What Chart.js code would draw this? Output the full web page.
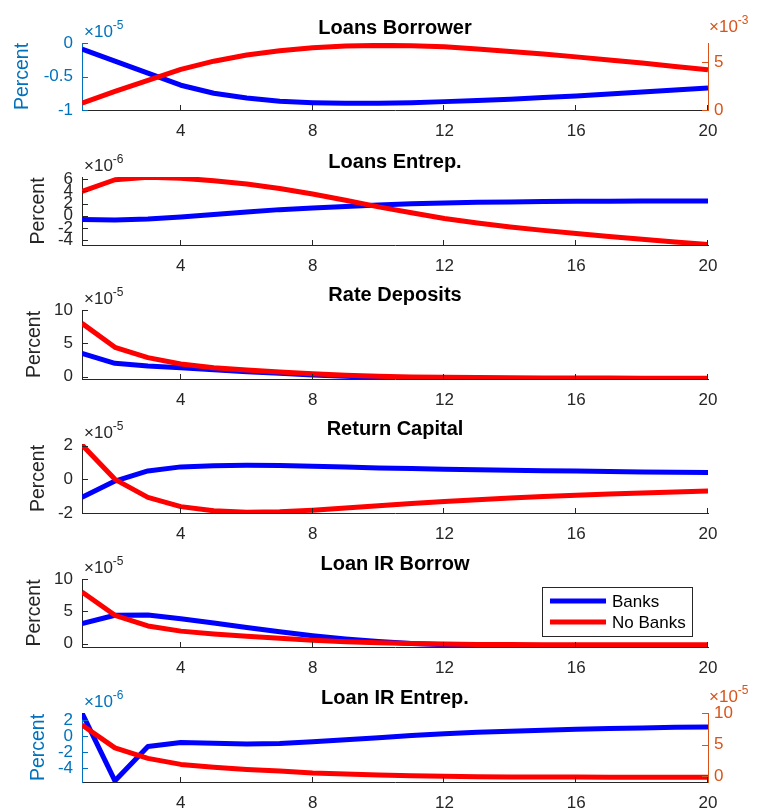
<!DOCTYPE html>
<html>
<head>
<meta charset="utf-8">
<script src="https://cdn.jsdelivr.net/npm/chart.js@4.4.1/dist/chart.umd.min.js"></script>
<style>
  html, body { margin: 0; padding: 0; background: #ffffff; }
  #wrap { position: relative; width: 759px; height: 811px; overflow: hidden; background: #ffffff; }
  #wrap canvas { position: absolute; left: 0; }
</style>
</head>
<body>
<div id="wrap"></div>
<script>
// ---- data: impulse responses over 20 periods ----
const periods = [1, 2, 3, 4, 5, 6, 7, 8, 9, 10, 11, 12, 13, 14, 15, 16, 17, 18, 19, 20];
const xTicks = [4, 8, 12, 16, 20];
const seriesNames = ['Banks', 'No Banks'];

// Loans Borrower: Banks in units of 1e-5 (left axis), No Banks in units of 1e-3 (right axis)
const loansBorrowerBanks   = [-0.09, -0.27, -0.45, -0.63, -0.75, -0.82, -0.87, -0.89, -0.90, -0.90, -0.89, -0.875, -0.86, -0.84, -0.815, -0.79, -0.76, -0.73, -0.70, -0.67];
const loansBorrowerNoBanks = [0.72, 1.95, 3.10, 4.25, 5.10, 5.75, 6.20, 6.50, 6.68, 6.75, 6.72, 6.60, 6.38, 6.12, 5.85, 5.55, 5.22, 4.90, 4.55, 4.20];
const loansBorrowerLeftTicks  = [-1, -0.5, 0];
const loansBorrowerRightTicks = [0, 5];

// Loans Entrep.: units of 1e-6
const loansEntrepBanks   = [-0.60, -0.70, -0.55, -0.20, 0.20, 0.60, 1.00, 1.25, 1.50, 1.75, 1.95, 2.10, 2.20, 2.27, 2.32, 2.36, 2.38, 2.40, 2.40, 2.40];
const loansEntrepNoBanks = [4.00, 5.90, 6.30, 6.15, 5.75, 5.20, 4.45, 3.55, 2.55, 1.45, 0.50, -0.45, -1.20, -1.85, -2.40, -2.90, -3.40, -3.85, -4.30, -4.70];
const loansEntrepTicks   = [-4, -2, 0, 2, 4, 6];

// Rate Deposits: units of 1e-5
const rateDepositsBanks   = [3.50, 2.00, 1.60, 1.35, 1.05, 0.75, 0.50, 0.25, 0.05, -0.08, -0.17, -0.22, -0.25, -0.27, -0.28, -0.29, -0.30, -0.30, -0.30, -0.30];
const rateDepositsNoBanks = [8.00, 4.40, 2.85, 1.90, 1.35, 1.00, 0.70, 0.42, 0.20, 0.05, -0.05, -0.10, -0.14, -0.17, -0.19, -0.20, -0.21, -0.22, -0.22, -0.22];
const rateDepositsTicks   = [0, 5, 10];

// Return Capital: units of 1e-5
const returnCapitalBanks   = [-1.07, -0.10, 0.50, 0.74, 0.81, 0.83, 0.82, 0.78, 0.73, 0.68, 0.64, 0.60, 0.57, 0.54, 0.51, 0.49, 0.46, 0.44, 0.42, 0.40];
const returnCapitalNoBanks = [2.05, 0.00, -1.07, -1.62, -1.87, -1.95, -1.92, -1.83, -1.70, -1.57, -1.44, -1.32, -1.21, -1.11, -1.02, -0.94, -0.87, -0.81, -0.75, -0.70];
const returnCapitalTicks   = [-2, 0, 2];

// Loan IR Borrow: units of 1e-5
const loanIRBorrowBanks   = [3.10, 4.40, 4.45, 3.85, 3.20, 2.50, 1.85, 1.25, 0.75, 0.35, 0.05, -0.15, -0.30, -0.38, -0.43, -0.45, -0.47, -0.48, -0.48, -0.48];
const loanIRBorrowNoBanks = [8.00, 4.40, 2.75, 1.95, 1.50, 1.15, 0.85, 0.55, 0.32, 0.15, 0.03, -0.05, -0.10, -0.12, -0.14, -0.15, -0.15, -0.15, -0.15, -0.15];
const loanIRBorrowTicks   = [0, 5, 10];

// Loan IR Entrep.: Banks in units of 1e-6 (left axis), No Banks in units of 1e-5 (right axis)
const loanIREntrepBanks   = [2.90, -5.60, -1.30, -0.80, -0.88, -0.98, -0.93, -0.70, -0.45, -0.20, 0.07, 0.30, 0.48, 0.62, 0.75, 0.86, 0.95, 1.03, 1.10, 1.15];
const loanIREntrepNoBanks = [8.10, 4.50, 2.85, 1.90, 1.45, 1.10, 0.85, 0.55, 0.38, 0.23, 0.12, 0.03, -0.03, -0.07, -0.09, -0.10, -0.11, -0.11, -0.11, -0.11];
const loanIREntrepLeftTicks  = [-4, -2, 0, 2];
const loanIREntrepRightTicks = [0, 5, 10];

// ---- styling ----
const AXIS_GRAY = '#262626';
const LEFT_BLUE = '#0072BD';
const RIGHT_ORANGE = '#D95319';
const BANKS_COLOR = '#0000FF';
const NOBANKS_COLOR = '#FF0000';
const FONT = "'Liberation Sans', Arial, Helvetica, sans-serif";
Chart.defaults.font.family = FONT;

const PAD_TOP = 45;
const X_AXIS_H = 32;
const PLOT_LEFT = 82;
const RIGHT_SPACE = 51;

const panels = [
  { title: 'Loans Borrower', top: 43, bottom: 110, padLeft: 11,
    banks: loansBorrowerBanks, noBanks: loansBorrowerNoBanks,
    left: { min: -1, max: 0, ticks: loansBorrowerLeftTicks, exp: '-5', color: LEFT_BLUE },
    right: { min: 0, max: 7, ticks: loansBorrowerRightTicks, exp: '-3', color: RIGHT_ORANGE } },
  { title: 'Loans Entrep.', top: 177, bottom: 245, padLeft: 27,
    banks: loansEntrepBanks, noBanks: loansEntrepNoBanks,
    left: { min: -4.8, max: 6.35, ticks: loansEntrepTicks, exp: '-6', color: AXIS_GRAY } },
  { title: 'Rate Deposits', top: 310, bottom: 379, padLeft: 23,
    banks: rateDepositsBanks, noBanks: rateDepositsNoBanks,
    left: { min: -0.35, max: 10, ticks: rateDepositsTicks, exp: '-5', color: AXIS_GRAY } },
  { title: 'Return Capital', top: 444, bottom: 513, padLeft: 27,
    banks: returnCapitalBanks, noBanks: returnCapitalNoBanks,
    left: { min: -2, max: 2.1, ticks: returnCapitalTicks, exp: '-5', color: AXIS_GRAY } },
  { title: 'Loan IR Borrow', top: 579, bottom: 647, padLeft: 23, legend: true,
    banks: loanIRBorrowBanks, noBanks: loanIRBorrowNoBanks,
    left: { min: -0.5, max: 10, ticks: loanIRBorrowTicks, exp: '-5', color: AXIS_GRAY } },
  { title: 'Loan IR Entrep.', top: 713, bottom: 782, padLeft: 27,
    banks: loanIREntrepBanks, noBanks: loanIREntrepNoBanks,
    left: { min: -5.75, max: 2.9, ticks: loanIREntrepLeftTicks, exp: '-6', color: LEFT_BLUE },
    right: { min: -0.875, max: 10, ticks: loanIREntrepRightTicks, exp: '-5', color: RIGHT_ORANGE } }
];

// Draws panel title, "×10^n" multipliers, inward tick marks and the legend box.
const decorPlugin = {
  id: 'decor',
  afterDraw(chart, args, opts) {
    const ctx = chart.ctx;
    const area = chart.chartArea;
    const p = opts.panel;
    ctx.save();

    // inward tick marks
    ctx.lineWidth = 1;
    const xs = chart.scales.x;
    ctx.strokeStyle = AXIS_GRAY;
    xs.ticks.forEach(t => {
      const px = Math.round(xs.getPixelForValue(t.value)) - 0.5;
      ctx.beginPath(); ctx.moveTo(px, area.bottom); ctx.lineTo(px, area.bottom - 5); ctx.stroke();
    });
    const ys = chart.scales.y;
    ctx.strokeStyle = p.left.color;
    ys.ticks.forEach(t => {
      const py = Math.round(ys.getPixelForValue(t.value)) + 0.5;
      ctx.beginPath(); ctx.moveTo(area.left, py); ctx.lineTo(area.left + 6, py); ctx.stroke();
    });
    if (chart.scales.y2) {
      const y2 = chart.scales.y2;
      ctx.strokeStyle = p.right.color;
      y2.ticks.forEach(t => {
        const py = Math.round(y2.getPixelForValue(t.value)) + 0.5;
        ctx.beginPath(); ctx.moveTo(area.right, py); ctx.lineTo(area.right - 6, py); ctx.stroke();
      });
    }

    // title
    ctx.fillStyle = '#000000';
    ctx.font = 'bold 20px ' + FONT;
    ctx.textAlign = 'center';
    ctx.textBaseline = 'alphabetic';
    ctx.fillText(p.title, (area.left + area.right) / 2, area.top - 9);

    // exponent multipliers
    const drawExp = (x, baseline, exp, color) => {
      ctx.fillStyle = color;
      ctx.textAlign = 'left';
      ctx.font = '17px ' + FONT;
      const base = '\u00D710';
      ctx.fillText(base, x, baseline);
      const w = ctx.measureText(base).width;
      ctx.font = '12px ' + FONT;
      ctx.fillText(exp, x + w, baseline - 8);
    };
    drawExp(area.left + 2, area.top - 6, p.left.exp, p.left.color);
    if (p.right) drawExp(area.right + 1, area.top - 11, p.right.exp, p.right.color);

    // legend
    if (p.legend) {
      const w = 150, h = 49;
      const L = area.right - 16 - w, T = area.top + 8;
      ctx.fillStyle = '#ffffff';
      ctx.fillRect(L, T, w, h);
      ctx.strokeStyle = AXIS_GRAY;
      ctx.lineWidth = 1;
      ctx.strokeRect(L + 0.5, T + 0.5, w, h);
      chart.data.datasets.forEach((ds, i) => {
        const yy = T + 14 + i * 21;
        ctx.strokeStyle = ds.borderColor;
        ctx.lineWidth = 5;
        ctx.beginPath(); ctx.moveTo(L + 8, yy); ctx.lineTo(L + 64, yy); ctx.stroke();
        ctx.fillStyle = '#000000';
        ctx.font = '17px ' + FONT;
        ctx.textAlign = 'left';
        ctx.textBaseline = 'middle';
        ctx.fillText(ds.label, L + 70, yy + 1);
      });
    }
    ctx.restore();
  }
};

const wrap = document.getElementById('wrap');

function fixedTicks(values) {
  return scale => { scale.ticks = values.map(v => ({ value: v })); };
}

function makePanel(p) {
  const dual = !!p.right;
  const h = PAD_TOP + (p.bottom - p.top) + X_AXIS_H;
  const canvas = document.createElement('canvas');
  canvas.width = 759; canvas.height = h;
  canvas.style.width = '759px'; canvas.style.height = h + 'px';
  canvas.style.top = (p.top - PAD_TOP) + 'px';
  wrap.appendChild(canvas);

  const lineStyle = { borderWidth: 5, pointRadius: 0, pointHoverRadius: 0, tension: 0, fill: false,
                      borderJoinStyle: 'round', borderCapStyle: 'butt' };

  const scales = {
    x: {
      type: 'linear', min: 1, max: 20,
      grid: { display: true, drawOnChartArea: false, drawTicks: false },
      border: { display: true, color: AXIS_GRAY, width: 1 },
      ticks: { color: AXIS_GRAY, font: { size: 17 }, padding: 11, maxRotation: 0, autoSkip: false,
               callback: v => String(v) },
      afterBuildTicks: fixedTicks(xTicks),
      afterFit: s => { s.height = X_AXIS_H; }
    },
    y: {
      type: 'linear', position: 'left', min: p.left.min, max: p.left.max,
      grid: { display: true, drawOnChartArea: false, drawTicks: false },
      border: { display: true, color: p.left.color, width: 1 },
      ticks: { color: p.left.color, font: { size: 17 }, padding: 9, autoSkip: false,
               callback: v => String(v) },
      title: { display: true, text: 'Percent', color: p.left.color, font: { size: 19.5 }, padding: 0 },
      afterBuildTicks: fixedTicks(p.left.ticks),
      afterFit: s => { s.width = PLOT_LEFT - p.padLeft; }
    }
  };
  if (dual) {
    scales.y2 = {
      type: 'linear', position: 'right', min: p.right.min, max: p.right.max,
      grid: { display: true, drawOnChartArea: false, drawTicks: false },
      border: { display: true, color: p.right.color, width: 1 },
      ticks: { color: p.right.color, font: { size: 17 }, padding: 6, autoSkip: false,
               callback: v => String(v) },
      afterBuildTicks: fixedTicks(p.right.ticks),
      afterFit: s => { s.width = RIGHT_SPACE; }
    };
  }

  new Chart(canvas, {
    type: 'line',
    data: {
      datasets: [
        Object.assign({ label: seriesNames[0], borderColor: BANKS_COLOR, yAxisID: 'y', order: 1,
                        data: periods.map((x, i) => ({ x, y: p.banks[i] })) }, lineStyle),
        Object.assign({ label: seriesNames[1], borderColor: NOBANKS_COLOR, yAxisID: dual ? 'y2' : 'y', order: 0,
                        data: periods.map((x, i) => ({ x, y: p.noBanks[i] })) }, lineStyle)
      ]
    },
    options: {
      responsive: false,
      animation: false,
      devicePixelRatio: 1,
      layout: { padding: { top: PAD_TOP, left: p.padLeft, right: dual ? 0 : RIGHT_SPACE, bottom: 0 } },
      plugins: { legend: { display: false }, tooltip: { enabled: false }, title: { display: false },
                 decor: { panel: p } },
      scales
    },
    plugins: [decorPlugin]
  });
}

panels.forEach(makePanel);
</script>
</body>
</html>
